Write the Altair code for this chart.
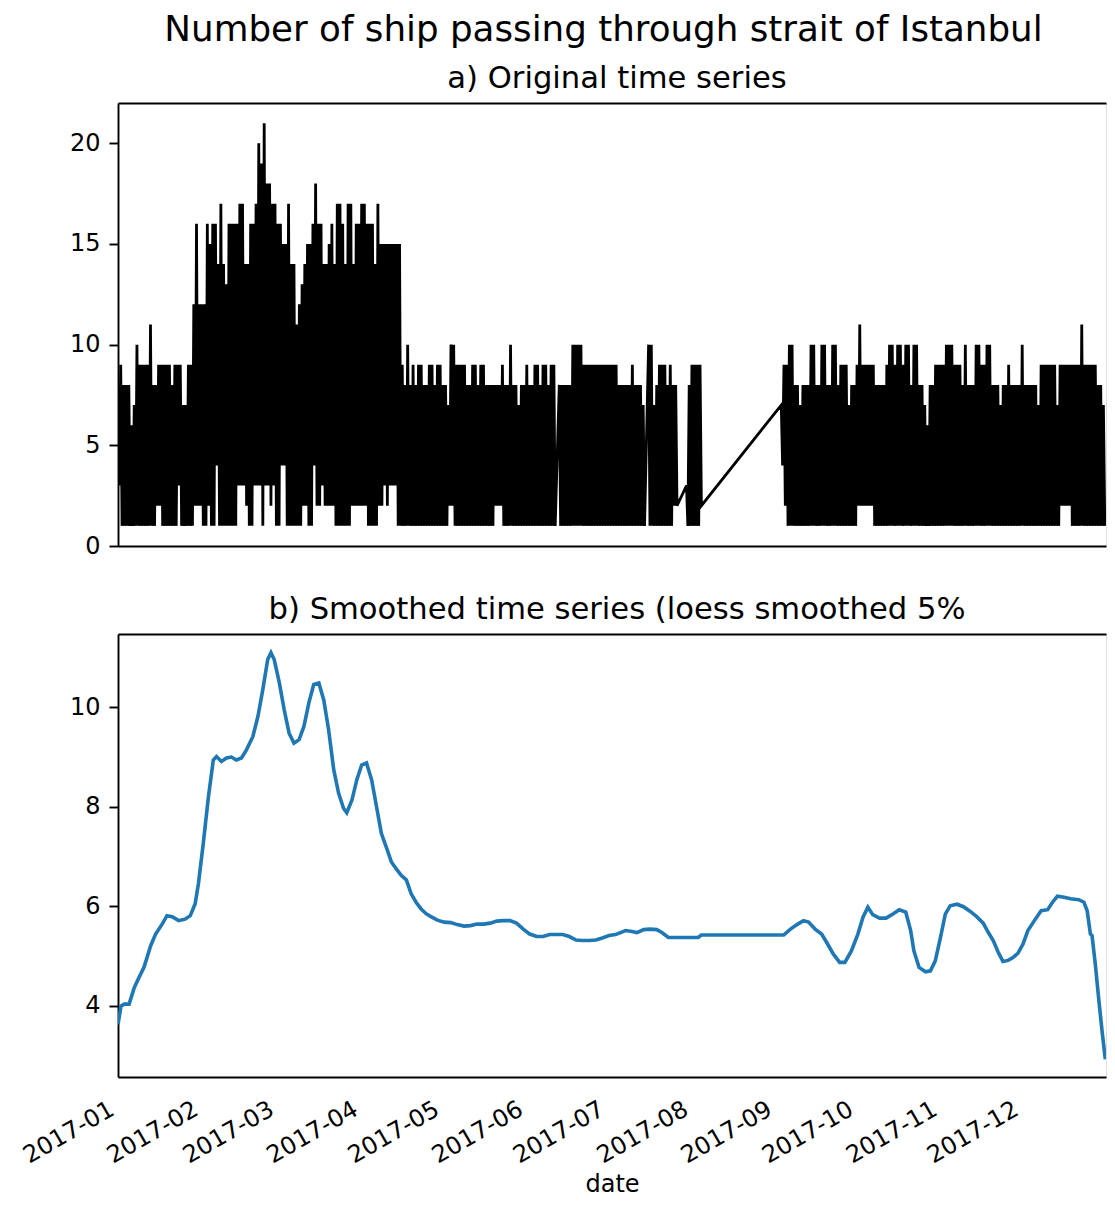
import altair as alt
import pandas as pd

title_main = "Number of ship passing through strait of Istanbul"
title_a = "a) Original time series"
title_b = "b) Smoothed time series (loess smoothed 5%"
x_title = "date"

# daily upper values of the raw series (day 0 = 2017-01-01), None = no data
hi = [
    7, 9, 8, 8, 8, 6, 7, 10, 9, 9, 9, 9, 11, 8, 8, 9, 9, 9, 9, 9,
    8, 9, 9, 9, 7, 7, 9, 9, 12, 16, 12, 12, 12, 16, 15, 16, 16, 14, 17, 14,
    13, 16, 16, 16, 16, 17, 17, 14, 14, 16, 16, 17, 20, 19, 21, 18, 18, 17, 17, 16,
    16, 15, 15, 17, 14, 14, 11, 12, 13, 14, 15, 15, 16, 18, 16, 16, 14, 14, 15, 16,
    14, 17, 17, 16, 14, 17, 17, 14, 16, 16, 17, 17, 16, 16, 16, 14, 17, 15, 15, 15,
    15, 15, 15, 15, 15, 9, 8, 10, 8, 9, 8, 9, 9, 8, 8, 9, 9, 8, 9, 9,
    8, 8, 7, 10, 10, 9, 9, 9, 9, 8, 8, 9, 9, 8, 9, 9, 8, 8, 8, 8,
    8, 8, 9, 8, 8, 10, 8, 8, 7, 8, 8, 9, 8, 8, 9, 9, 8, 9, 9, 8,
    9, 9, None, 8, 8, 8, 8, 8, 10, 10, 10, 10, 9, 9, 9, 9, 9, 9, 9, 9,
    9, 9, 9, 9, 9, 8, 8, 8, 8, 8, 9, 8, 8, 8, 7, None, 10, 10, 7, 8,
    9, 9, 9, 8, 9, 8, 8, None, None, None, 3, 8, 9, 9, 9, 9, None, None, None, None,
    None, None, None, None, None, None, None, None, None, None, None, None, None, None, None, None, None, None, None, None,
    None, None, None, None, None, 7, 9, 9, 10, 10, 8, 8, 7, 8, 8, 8, 10, 10, 8, 8,
    10, 10, 8, 8, 10, 10, 8, 9, 9, 9, 7, 8, 8, 9, 11, 9, 9, 9, 9, 9,
    8, 8, 8, 8, 9, 10, 10, 9, 10, 10, 9, 10, 10, 8, 10, 10, 8, 8, 7, 6,
    8, 8, 9, 9, 9, 9, 10, 10, 10, 9, 9, 9, 8, 10, 8, 8, 8, 10, 10, 9,
    9, 10, 10, 8, 8, 8, 7, 8, 8, 9, 8, 8, 8, 8, 10, 8, 8, 8, 8, 8,
    7, 9, 9, 9, 9, 9, 9, 7, 9, 9, 9, 9, 9, 9, 9, 9, 11, 9, 9, 9,
    9, 9, 8, 8, 7,
]

# daily lower values of the raw series
lo = [
    3, 1, 1, 1, 1, 1, 1, 1, 1, 1, 1, 1, 1, 1, 2, 2, 1, 1, 1, 1,
    1, 1, 3, 1, 1, 1, 1, 1, 2, 2, 2, 1, 1, 2, 1, 1, 4, 1, 1, 1,
    1, 1, 1, 1, 3, 3, 3, 2, 1, 1, 3, 3, 3, 1, 3, 3, 2, 3, 1, 1,
    4, 4, 1, 1, 1, 1, 1, 1, 2, 2, 1, 1, 4, 2, 2, 3, 2, 2, 2, 2,
    1, 1, 1, 1, 1, 1, 2, 2, 2, 2, 2, 2, 1, 1, 1, 1, 2, 2, 3, 2,
    3, 3, 3, 1, 1, 1, 1, 1, 1, 1, 1, 1, 1, 1, 1, 1, 1, 1, 1, 1,
    1, 1, 2, 2, 1, 1, 1, 1, 1, 1, 1, 1, 1, 1, 1, 1, 1, 1, 1, 2,
    2, 2, 1, 1, 1, 1, 1, 1, 1, 1, 1, 1, 1, 1, 1, 1, 1, 1, 1, 1,
    1, 1, None, 1, 1, 1, 1, 1, 1, 1, 1, 1, 1, 1, 1, 1, 1, 1, 1, 1,
    1, 1, 1, 1, 1, 1, 1, 1, 1, 1, 1, 1, 1, 1, 1, None, 1, 1, 1, 1,
    1, 1, 1, 1, 1, 2, 2, None, None, None, 1, 1, 1, 1, 1, 2, None, None, None, None,
    None, None, None, None, None, None, None, None, None, None, None, None, None, None, None, None, None, None, None, None,
    None, None, None, None, None, 4, 2, 1, 1, 1, 1, 1, 1, 1, 1, 1, 1, 1, 1, 1,
    1, 1, 1, 1, 1, 1, 1, 1, 1, 1, 1, 1, 1, 2, 2, 2, 2, 2, 2, 1,
    1, 1, 1, 1, 1, 1, 1, 1, 1, 1, 1, 1, 1, 1, 1, 1, 1, 1, 1, 1,
    1, 1, 1, 1, 1, 1, 1, 1, 1, 1, 1, 1, 1, 1, 1, 1, 1, 1, 1, 1,
    1, 1, 1, 1, 1, 1, 1, 1, 1, 1, 1, 1, 1, 1, 1, 1, 1, 1, 1, 1,
    1, 1, 1, 1, 1, 1, 1, 1, 2, 2, 2, 2, 1, 1, 1, 1, 1, 1, 1, 1,
    1, 1, 1, 1, 1,
]

# smoothed series: day offset from 2017-01-01 and value
sm_day = [
    0, 1.1, 2.3, 4.1, 6.0, 7.8, 9.6, 12.1, 13.9, 16.3,
    18.1, 20.0, 22.4, 24.8, 26.7, 28.5, 29.7, 31.5, 33.4, 35.2,
    36.4, 38.2, 40.1, 41.9, 43.7, 45.6, 47.4, 49.8, 51.7, 53.5,
    55.3, 56.5, 57.7, 59.6, 61.4, 63.2, 65.0, 66.9, 68.7, 70.5,
    72.3, 74.2, 76.0, 77.8, 79.7, 81.5, 83.3, 84.5, 86.4, 88.2,
    90.0, 91.8, 93.7, 95.5, 97.3, 99.1, 101.0, 102.8, 104.6, 106.5,
    108.3, 110.1, 111.9, 113.8, 115.6, 118.0, 120.5, 122.9, 125.3, 127.8,
    130.2, 132.6, 135.1, 137.5, 139.9, 142.4, 144.8, 147.2, 149.7, 152.1,
    154.6, 157.0, 159.4, 161.9, 164.3, 166.7, 169.2, 171.6, 174.1, 176.5,
    178.9, 181.4, 183.8, 185.6, 187.5, 189.9, 191.7, 194.2, 196.6, 199.0,
    200.9, 203.3, 205.7, 208.2, 211.8, 214.3, 215.5, 219.1, 245.9, 248.4,
    250.8, 253.2, 255.1, 257.5, 259.9, 261.8, 264.2, 266.6, 268.5, 270.9,
    273.3, 275.2, 277.0, 278.8, 281.3, 283.7, 286.1, 288.6, 291.0, 292.8,
    294.0, 295.9, 298.3, 300.1, 301.9, 303.8, 305.6, 307.4, 309.9, 312.3,
    314.7, 317.2, 319.6, 321.5, 323.3, 325.1, 326.9, 328.8, 330.6, 332.4,
    334.3, 336.1, 338.5, 341.0, 343.4, 345.2, 347.0, 349.5, 351.9, 354.9,
    356.8, 358.0, 359.2, 359.8, 361.0, 362.2, 363.5, 364.7,
]
sm_val = [
    3.62, 3.99, 4.03, 4.03, 4.36, 4.57, 4.77, 5.21, 5.44, 5.64,
    5.81, 5.79, 5.71, 5.74, 5.81, 6.05, 6.45, 7.26, 8.20, 8.94,
    9.01, 8.91, 8.98, 9.00, 8.94, 8.98, 9.14, 9.41, 9.82, 10.36,
    10.96, 11.10, 10.96, 10.49, 9.95, 9.48, 9.28, 9.35, 9.62, 10.09,
    10.46, 10.49, 10.15, 9.55, 8.74, 8.27, 7.97, 7.88, 8.13, 8.54,
    8.84, 8.88, 8.54, 8.00, 7.46, 7.19, 6.89, 6.75, 6.62, 6.53,
    6.25, 6.08, 5.95, 5.85, 5.79, 5.72, 5.68, 5.67, 5.63, 5.60,
    5.61, 5.64, 5.64, 5.66, 5.70, 5.71, 5.71, 5.66, 5.54, 5.44,
    5.39, 5.39, 5.43, 5.43, 5.43, 5.39, 5.32, 5.31, 5.31, 5.32,
    5.36, 5.41, 5.43, 5.47, 5.51, 5.49, 5.47, 5.53, 5.54, 5.53,
    5.47, 5.37, 5.37, 5.37, 5.37, 5.37, 5.42, 5.42, 5.42, 5.54,
    5.63, 5.71, 5.68, 5.54, 5.44, 5.27, 5.04, 4.87, 4.87, 5.10,
    5.44, 5.78, 5.98, 5.83, 5.76, 5.76, 5.84, 5.93, 5.88, 5.51,
    5.10, 4.77, 4.68, 4.70, 4.90, 5.37, 5.84, 6.01, 6.04, 5.99,
    5.90, 5.79, 5.66, 5.47, 5.31, 5.08, 4.89, 4.91, 4.97, 5.05,
    5.24, 5.51, 5.71, 5.91, 5.93, 6.08, 6.20, 6.18, 6.15, 6.13,
    6.08, 5.91, 5.44, 5.41, 4.84, 4.17, 3.49, 2.92,
]

raw_ticks = [0, 5, 10, 15, 20]
smooth_ticks = [4, 6, 8, 10]
months = [1, 2, 3, 4, 5, 6, 7, 8, 9, 10, 11, 12]

base = pd.Timestamp("2017-01-01")
raw_rows = []
for d, (h, l) in enumerate(zip(hi, lo)):
    if h is None:
        continue
    raw_rows.append({"date": (base + pd.Timedelta(days=d)).isoformat(), "ships": h})
    raw_rows.append({"date": (base + pd.Timedelta(days=d + 0.5)).isoformat(), "ships": l})
raw = pd.DataFrame(raw_rows)

smooth = pd.DataFrame({
    "date": [(base + pd.Timedelta(days=d)).isoformat() for d in sm_day],
    "ships": sm_val,
})

FONT = "DejaVu Sans"
W, H = 988, 443
x_scale = alt.Scale(domain=[alt.DateTime(year=2017, month=1, date=1),
                            alt.DateTime(year=2017, month=12, date=31, hours=23)])

frame = dict(domain=True, domainColor="black", domainWidth=1.9, grid=False)

y_axis_common = dict(title=None, ticks=True, tickSize=9, tickWidth=1.9,
                     tickColor="black", labelFontSize=24, labelColor="black",
                     labelFont=FONT, labelPadding=9, minExtent=109, maxExtent=109,
                     **frame)

top_axis = alt.Axis(orient="top", labels=False, ticks=False, title=None, **frame)
plain_bottom_axis = alt.Axis(orient="bottom", labels=False, ticks=False, title=None, **frame)
date_axis = alt.Axis(
    orient="bottom",
    values=[alt.DateTime(year=2017, month=m, date=1) for m in months],
    format="%Y-%m", labelAngle=-30, labelAlign="right", labelBaseline="top",
    labelFontSize=24, labelFont=FONT, labelColor="black", labelOverlap=False,
    labelFlush=False, labelBound=False, ticks=False, tickSize=0,
    labelPadding=20, labelOffset=-12,
    title=x_title, titleFont=FONT, titleFontSize=24, titleFontWeight="normal",
    titleColor="black", titlePadding=5, **frame)


def panel(data, color, width, y_domain, y_ticks, bottom_axis, title):
    y_enc = alt.Y("ships:Q", scale=alt.Scale(domain=y_domain, nice=False),
                  axis=alt.Axis(values=y_ticks, **y_axis_common))
    main = alt.Chart(data).mark_line(color=color, strokeWidth=width, clip=True).encode(
        x=alt.X("date:T", scale=x_scale, axis=bottom_axis),
        y=y_enc,
    )
    # invisible copy that only carries the top border of the frame
    border = alt.Chart(data).mark_line(opacity=0).encode(
        x=alt.X("date:T", scale=x_scale, axis=top_axis),
        y=y_enc,
    )
    return alt.layer(main, border).resolve_axis(x="independent").properties(
        width=W, height=H,
        title=alt.TitleParams(title, fontSize=30.6, font=FONT, fontWeight="normal",
                              color="black", frame="group", anchor="middle",
                              offset=8, dx=5),
    )


top = panel(raw, "black", 2.8, [0, 22], raw_ticks, plain_bottom_axis, title_a)
bottom = panel(smooth, "#1f77b4", 3.6, [2.565, 11.475], smooth_ticks, date_axis, title_b)

chart = alt.vconcat(
    top, bottom, spacing=35,
    title=alt.TitleParams(title_main, fontSize=35.7, font=FONT, fontWeight="normal",
                          color="black", anchor="middle", offset=15, dx=46),
).properties(
    padding={"left": 0, "top": 4, "right": 0, "bottom": 0},
).configure_view(stroke=None).configure(background="white")

chart.save("out.html", embed_options={"renderer": "svg", "actions": False})
